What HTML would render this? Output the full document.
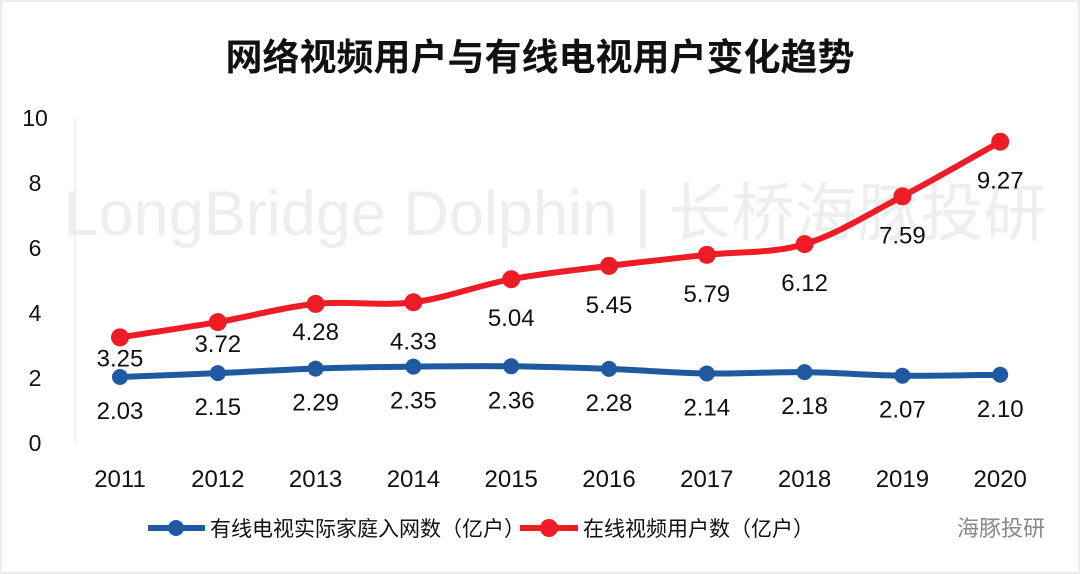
<!DOCTYPE html>
<html><head><meta charset="utf-8"><style>
body{margin:0;background:#fff;}
svg{display:block;font-family:"Liberation Sans","Noto Sans CJK SC",sans-serif;}
</style></head><body>
<svg id="chart" width="1080" height="574" viewBox="0 0 1080 574">
<rect x="1" y="1" width="1078" height="572" fill="#fff" stroke="#d9d9d9"/>
<text x="540" y="70" text-anchor="middle" font-size="37" font-weight="bold" fill="#111">网络视频用户与有线电视用户变化趋势</text>
<text x="555" y="235" text-anchor="middle" font-size="63" fill="#eeeeee">LongBridge Dolphin | 长桥海豚投研</text>
<line x1="75" y1="118" x2="75" y2="443" stroke="#e3e3e3"/>
<g id="yticks"></g><g id="xticks"></g><g id="series"></g>
<g>
<line x1="148" y1="528" x2="205" y2="528" stroke="#1f5aa0" stroke-width="6"/>
<circle cx="176" cy="528" r="8" fill="#1f5aa0"/>
<text x="210" y="536" font-size="21" fill="#111">有线电视实际家庭入网数（亿户）</text>
<line x1="520" y1="528" x2="578" y2="528" stroke="#ee1c25" stroke-width="6"/>
<circle cx="549" cy="528" r="9" fill="#ee1c25"/>
<text x="583" y="536" font-size="21" fill="#111">在线视频用户数（亿户）</text>
</g>
<text x="1045" y="536" text-anchor="end" font-size="22" fill="#888">海豚投研</text>
</svg>
<script>
const years=["2011","2012","2013","2014","2015","2016","2017","2018","2019","2020"];
const video=[3.25,3.72,4.28,4.33,5.04,5.45,5.79,6.12,7.59,9.27];
const cable=[2.03,2.15,2.29,2.35,2.36,2.28,2.14,2.18,2.07,2.10];
const yTicks=[0,2,4,6,8,10];
const NS="http://www.w3.org/2000/svg";
const xS=i=>120+i*97.8;
const yS=v=>443-32.5*v;
function mk(t,a,p){const e=document.createElementNS(NS,t);for(const k in a)e.setAttribute(k,a[k]);p.appendChild(e);return e;}
const yt=document.getElementById('yticks');
yTicks.forEach(v=>{const t=mk('text',{x:35,y:yS(v)+8,'text-anchor':'middle','font-size':23,fill:'#111'},yt);t.textContent=v;

});
const xt=document.getElementById('xticks');
years.forEach((y,i)=>{const t=mk('text',{x:xS(i),y:487,'text-anchor':'middle','font-size':24,fill:'#111'},xt);t.textContent=y;

});
function path(vals){const p=vals.map((v,i)=>[xS(i),yS(v)]);let d=`M${p[0][0]},${p[0][1]}`;
for(let i=0;i<p.length-1;i++){const p0=p[i-1]||p[i],p1=p[i],p2=p[i+1],p3=p[i+2]||p2;
d+=` C${p1[0]+(p2[0]-p0[0])/6},${p1[1]+(p2[1]-p0[1])/6} ${p2[0]-(p3[0]-p1[0])/6},${p2[1]-(p3[1]-p1[1])/6} ${p2[0]},${p2[1]}`;}return d;}
const g=document.getElementById('series');
function series(vals,color,r,offFn,name){
const pa=mk('path',{d:path(vals),fill:'none',stroke:color,'stroke-width':6},g);


vals.forEach((v,i)=>{const c=mk('circle',{cx:xS(i),cy:yS(v),r:r,fill:color},g);


const t=mk('text',{x:xS(i),y:yS(v)+offFn(i),'text-anchor':'middle','font-size':24,fill:'#111'},g);t.textContent=v.toFixed(2);

});}
series(cable,'#1f5aa0',8,()=>42,'cable');
series(video,'#ee1c25',9,i=>i===0?29:i===1?30:i===2?36:47,'video');
</script>
</body></html>
